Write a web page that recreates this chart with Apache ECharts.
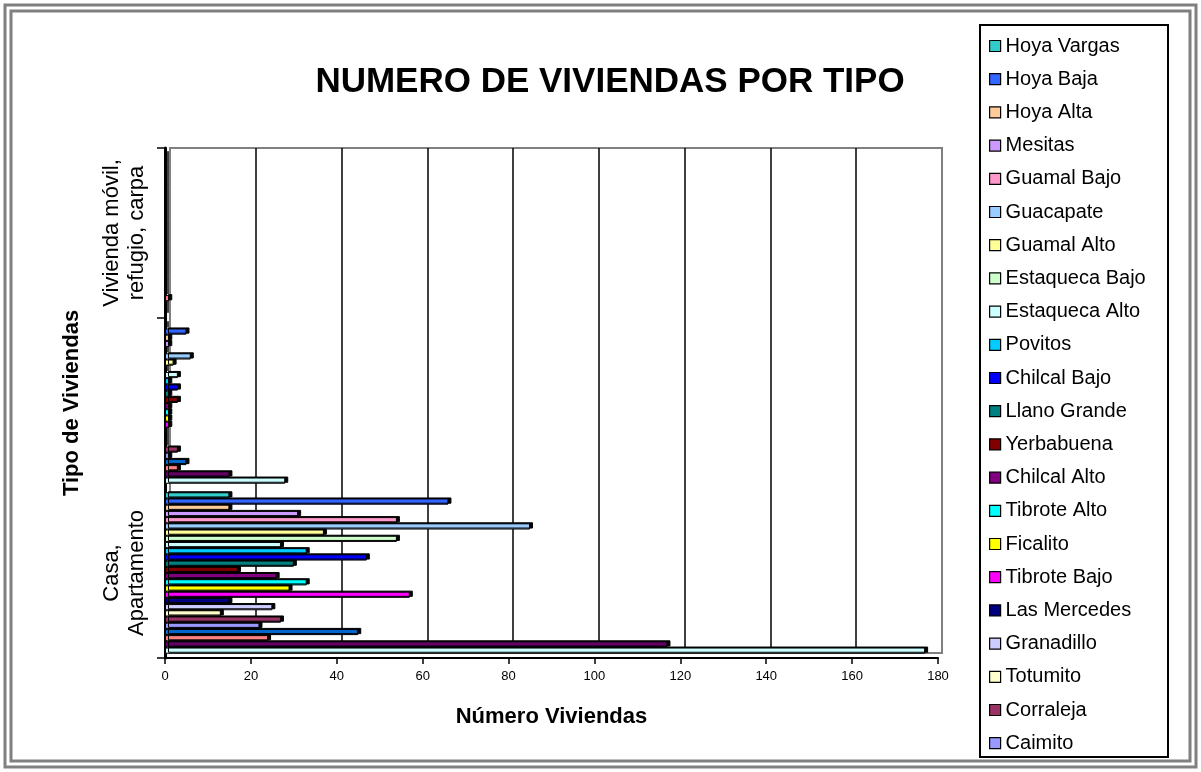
<!DOCTYPE html>
<html>
<head>
<meta charset="utf-8">
<script src="https://cdn.jsdelivr.net/npm/echarts@6/dist/echarts.min.js"></script>
<style>
html,body{margin:0;padding:0;background:#fff;}
#chart{width:1201px;height:772px;}
</style>
</head>
<body>
<div id="chart"></div>
<script>
// Categories (bottom to top on the axis)
const categories = ['Casa,\nApartamento', 'Cuartos o Cuarto', 'Vivienda móvil,\nrefugio, carpa'];

// Series names, listed top to bottom inside each group (legend order)
const seriesNames = ['Hoya Vargas','Hoya Baja','Hoya Alta','Mesitas','Guamal Bajo','Guacapate','Guamal Alto',
  'Estaqueca Bajo','Estaqueca Alto','Povitos','Chilcal Bajo','Llano Grande','Yerbabuena','Chilcal Alto',
  'Tibrote Alto','Ficalito','Tibrote Bajo','Las Mercedes','Granadillo','Totumito','Corraleja','Caimito',
  'Serie 4','Serie 3','Serie 2','Serie 1'];

// Legend entries visible in the reference
const legendNames = seriesNames.slice(0, 22);

const seriesColors = ['#33CCCC','#3366FF','#FFCC99','#CC99FF','#FF99CC','#99CCFF','#FFFF99',
  '#CCFFCC','#CCFFFF','#00CCFF','#0000FF','#008080','#800000','#800080',
  '#00FFFF','#FFFF00','#FF00FF','#000080','#CCCCFF','#FFFFCC','#993366','#9999FF',
  '#0066CC','#FF8080','#660066','#CCFFFF'];

// Values per category, same order as seriesNames
const casaValues     = [15,66,15,31,54,85,37,54,27,33,47,30,17,26,33,29,57,15,25,13,27,22,45,24,117,177];
const cuartosValues  = [0,5,1,1,0,6,2,0,3,1,3,1,3,1,1,1,1,0,0,0,3,1,5,3,15,28];
const viviendaValues = [0,0,0,0,0,0,0,0,0,0,0,0,0,0,0,0,0,0,0,0,0,0,0,1,0,0];

// X-axis ticks
const xMin = 0, xMax = 180, xStep = 20;

const chart = echarts.init(document.getElementById('chart'), null, {renderer: 'canvas'});

const series = seriesNames.map((name, i) => ({
  name: name,
  type: 'bar',
  xAxisIndex: 0,
  yAxisIndex: 0,
  data: [casaValues[i], cuartosValues[i], viviendaValues[i]],
  barGap: '0%',
  barCategoryGap: '5%',
  itemStyle: {
    color: seriesColors[i],
    borderColor: '#000',
    borderWidth: 1,
    shadowColor: '#000',
    shadowBlur: 0,
    shadowOffsetX: 3,
    shadowOffsetY: -1
  },
  emphasis: {disabled: true},
  animation: false
}));

const fontMain = 'Liberation Sans, Arial, sans-serif';

chart.setOption({
  backgroundColor: '#fff',
  animation: false,
  title: {
    text: 'NUMERO DE VIVIENDAS POR TIPO',
    left: 605,
    top: 60,
    textAlign: 'center',
    textStyle: {fontFamily: fontMain, fontWeight: 'bold', fontSize: 35, color: '#000'}
  },
  graphic: [
    {type: 'rect', shape: {x: 5, y: 5, width: 1191, height: 762}, style: {fill: 'none', stroke: '#808080', lineWidth: 3}, silent: true},
    {type: 'rect', shape: {x: 11, y: 11, width: 1179, height: 750}, style: {fill: 'none', stroke: '#808080', lineWidth: 3}, silent: true},
    {type: 'rect', shape: {x: 980, y: 25, width: 188, height: 732}, style: {fill: 'none', stroke: '#000', lineWidth: 2}, silent: true}
  ],
  legend: {
    data: legendNames,
    orient: 'vertical',
    left: 989,
    top: 36,
    padding: 0,
    itemGap: 13.2,
    itemWidth: 11,
    itemHeight: 11,
    icon: 'rect',
    selectedMode: false,
    itemStyle: {borderColor: '#000', borderWidth: 1.2, shadowBlur: 0, shadowOffsetX: 0, shadowOffsetY: 0},
    textStyle: {fontFamily: fontMain, fontSize: 20, lineHeight: 20, color: '#000'}
  },
  grid: [
    // front plane: axes and bars
    {left: 165, right: 263, top: 148, bottom: 114, show: false},
    // back wall (3D depth offset): gridlines and gray frame
    {left: 170, right: 259, top: 148, bottom: 119, show: true, borderColor: '#808080', borderWidth: 2, backgroundColor: '#fff'}
  ],
  xAxis: [
    {
      type: 'value',
      gridIndex: 0,
      min: xMin, max: xMax, interval: xStep,
      name: 'Número Viviendas',
      nameLocation: 'middle',
      nameGap: 48,
      nameTextStyle: {fontFamily: fontMain, fontWeight: 'bold', fontSize: 22, color: '#000'},
      axisLine: {show: true, lineStyle: {color: '#000', width: 2}},
      axisTick: {show: true, length: 6, lineStyle: {color: '#000', width: 1.5}},
      axisLabel: {margin: 12, color: '#000', fontSize: 13, fontFamily: 'Liberation Sans Narrow, Arial Narrow, Liberation Sans, sans-serif'},
      splitLine: {show: false}
    },
    {
      type: 'value',
      gridIndex: 1,
      min: xMin, max: xMax, interval: xStep,
      axisLine: {show: false},
      axisTick: {show: false},
      axisLabel: {show: false},
      splitLine: {show: true, showMinLine: false, showMaxLine: false, lineStyle: {color: '#000', width: 1.5}}
    }
  ],
  yAxis: [
    {
      type: 'category',
      gridIndex: 0,
      data: categories,
      name: 'Tipo de Viviendas',
      nameLocation: 'middle',
      nameGap: 82,
      nameTextStyle: {fontFamily: fontMain, fontWeight: 'bold', fontSize: 22, color: '#000'},
      axisLine: {show: true, lineStyle: {color: '#000', width: 3}},
      axisTick: {show: true, length: 8, lineStyle: {color: '#000', width: 1.5}},
      axisLabel: {rotate: 90, margin: 16, align: 'center', color: '#000', fontSize: 22, lineHeight: 25, fontFamily: fontMain},
      splitLine: {show: false}
    },
    {
      type: 'category',
      gridIndex: 1,
      data: categories,
      axisLine: {show: false},
      axisTick: {show: false},
      axisLabel: {show: false},
      splitLine: {show: false}
    }
  ],
  series: series
});
</script>
</body>
</html>
